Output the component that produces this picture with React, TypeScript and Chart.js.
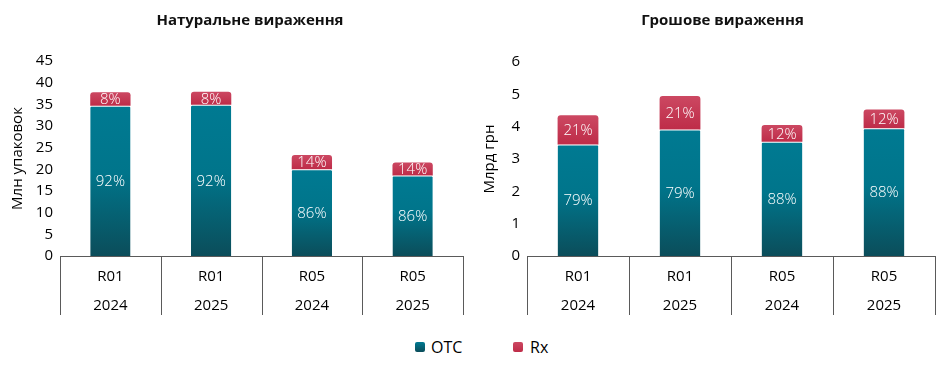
import React, { useEffect, useRef } from "react";
import { Chart, registerables } from "chart.js";

Chart.register(...registerables);

// ---------- data ----------
const categories = [
  ["R01", "2024"],
  ["R01", "2025"],
  ["R05", "2024"],
  ["R05", "2025"],
];
const seriesNames = ["OTC", "Rx"];

const volumeTitle = "Натуральне вираження";
const volumeAxisTitle = "Млн упаковок";
const volumeOTC = [34.7, 34.9, 20.0, 18.6];
const volumeRx = [3.1, 3.0, 3.3, 3.0];
const volumeOTCShare = ["92%", "92%", "86%", "86%"];
const volumeRxShare = ["8%", "8%", "14%", "14%"];
const volumeMax = 45;
const volumeStep = 5;

const valueTitle = "Грошове вираження";
const valueAxisTitle = "Млрд грн";
const valueOTC = [3.45, 3.91, 3.53, 3.95];
const valueRx = [0.9, 1.04, 0.52, 0.58];
const valueOTCShare = ["79%", "79%", "88%", "88%"];
const valueRxShare = ["21%", "21%", "12%", "12%"];
const valueMax = 6;
const valueStep = 1;

// ---------- styles ----------
const FONT = "'Open Sans', 'Noto Sans', 'DejaVu Sans', sans-serif";
const OTC_TOP = "#007A92";
const OTC_MID = "#00758B";
const OTC_BOTTOM = "#0B4D5A";
const RX_TOP = "#CC4862";
const RX_BOTTOM = "#BE2C48";
const LINE = "#5a5a5a";

function barGradient(ctx: any, stackIndex: number, top: string, mid: string | null, bottom: string) {
  const chart = ctx.chart;
  const area = chart.chartArea;
  if (!area || ctx.type !== "data") return top;
  const y = chart.scales.y;
  const datasets = chart.data.datasets;
  let base = 0;
  for (let k = 0; k < stackIndex; k++) base += datasets[k].data[ctx.dataIndex] as number;
  const v = base + (datasets[stackIndex].data[ctx.dataIndex] as number);
  const yTop = y.getPixelForValue(v);
  const yBot = y.getPixelForValue(base);
  if (!isFinite(yTop) || !isFinite(yBot) || yTop === yBot) return top;
  const g = chart.ctx.createLinearGradient(0, yTop, 0, yBot);
  g.addColorStop(0, top);
  if (mid) g.addColorStop(0.45, mid);
  g.addColorStop(1, bottom);
  return g;
}

const barLabelPlugin = {
  id: "barLabels",
  afterDatasetsDraw(chart: any) {
    const c = chart.ctx;
    c.save();
    c.font = `300 15px ${FONT}`;
    c.fillStyle = "#ffffff";
    c.textAlign = "center";
    c.textBaseline = "middle";
    chart.data.datasets.forEach((ds: any, i: number) => {
      const meta = chart.getDatasetMeta(i);
      meta.data.forEach((bar: any, j: number) => {
        const { x, y, base } = bar.getProps(["x", "y", "base"], true);
        c.fillText(ds.shares[j], x, (y + base) / 2 + 1);
      });
    });
    c.restore();
  },
};

const categoryGridPlugin = {
  id: "categoryGrid",
  afterDraw(chart: any) {
    const x = chart.scales.x;
    const bottom = chart.chartArea.bottom;
    const c = chart.ctx;
    c.save();
    c.strokeStyle = LINE;
    c.lineWidth = 1;
    const n = chart.data.labels.length;
    for (let i = 0; i <= n; i++) {
      const px = Math.round(x.getPixelForValue(i - 0.5)) + 0.5;
      c.beginPath();
      c.moveTo(px, bottom);
      c.lineTo(px, bottom + 59);
      c.stroke();
    }
    c.restore();
  },
};

const chartTitlePlugin = {
  id: "chartTitle",
  afterDraw(chart: any, _args: any, opts: any) {
    const c = chart.ctx;
    c.save();
    c.font = `bold 15px ${FONT}`;
    c.fillStyle = "#111";
    c.textAlign = "center";
    c.textBaseline = "middle";
    c.fillText(opts.text, chart.width / 2 + 15, 21);
    c.restore();
  },
};

function makeConfig(
  title: string,
  axisTitle: string,
  otc: number[],
  rx: number[],
  otcShare: string[],
  rxShare: string[],
  max: number,
  step: number,
  yWidth: number,
  titlePad: number,
  padRight: number,
  padTop: number
): any {
  return {
    type: "bar",
    data: {
      labels: categories,
      datasets: [
        {
          label: seriesNames[0],
          data: otc,
          shares: otcShare,
          backgroundColor: (ctx: any) => barGradient(ctx, 0, OTC_TOP, OTC_MID, OTC_BOTTOM),
          borderColor: "rgba(255,255,255,0.55)",
          borderWidth: { top: 1, left: 0, right: 0, bottom: 0 },
          borderSkipped: false,
          borderRadius: { topLeft: 2, topRight: 2, bottomLeft: 0, bottomRight: 0 },
          barPercentage: 0.4,
          categoryPercentage: 1,
        },
        {
          label: seriesNames[1],
          data: rx,
          shares: rxShare,
          backgroundColor: (ctx: any) => barGradient(ctx, 1, RX_TOP, null, RX_BOTTOM),
          borderWidth: 0,
          borderSkipped: false,
          borderRadius: { topLeft: 3, topRight: 3, bottomLeft: 0, bottomRight: 0 },
          barPercentage: 0.4,
          categoryPercentage: 1,
        },
      ],
    },
    options: {
      responsive: false,
      animation: false,
      devicePixelRatio: 1,
      layout: { padding: { left: 0, right: padRight, top: padTop, bottom: 0 } },
      plugins: {
        legend: { display: false },
        tooltip: { enabled: false },
        title: { display: false },
        chartTitle: { text: title },
      },
      scales: {
        x: {
          stacked: true,
          offset: true,
          grid: { display: false, drawTicks: false },
          border: { display: true, color: LINE, width: 1 },
          ticks: {
            color: "#000",
            padding: 6,
            maxRotation: 0,
            autoSkip: false,
            font: { family: FONT, size: 15, lineHeight: "29px" },
          },
          afterFit: (s: any) => {
            s.height = 74;
          },
        },
        y: {
          stacked: true,
          min: 0,
          max: max,
          grid: { display: false, drawTicks: false },
          border: { display: false },
          ticks: {
            stepSize: step,
            color: "#000",
            padding: 7,
            font: { family: FONT, size: 15 },
          },
          title: {
            display: true,
            text: axisTitle,
            color: "#000",
            font: { family: FONT, size: 15 },
            padding: { top: titlePad, bottom: 0 },
          },
          afterFit: (s: any) => {
            s.width = yWidth;
          },
        },
      },
    },
    plugins: [barLabelPlugin, categoryGridPlugin, chartTitlePlugin],
  };
}

export default function App() {
  const leftRef = useRef<HTMLCanvasElement>(null);
  const rightRef = useRef<HTMLCanvasElement>(null);

  useEffect(() => {
    const left = new Chart(
      leftRef.current as HTMLCanvasElement,
      makeConfig(volumeTitle, volumeAxisTitle, volumeOTC, volumeRx, volumeOTCShare, volumeRxShare, volumeMax, volumeStep, 60, 9, 7, 61)
    );
    const right = new Chart(
      rightRef.current as HTMLCanvasElement,
      makeConfig(valueTitle, valueAxisTitle, valueOTC, valueRx, valueOTCShare, valueRxShare, valueMax, valueStep, 57, 11, 10, 62)
    );
    return () => {
      left.destroy();
      right.destroy();
    };
  }, []);

  const legendText: React.CSSProperties = {
    position: "absolute",
    top: 337,
    height: 20,
    lineHeight: "20px",
    fontFamily: FONT,
    fontSize: 16,
    color: "#000",
  };
  const swatch: React.CSSProperties = {
    position: "absolute",
    top: 342,
    width: 10,
    height: 10,
    borderRadius: 2,
  };

  return (
    <div style={{ position: "absolute", left: 0, top: 0, width: 945, height: 366, background: "#fff", overflow: "hidden" }}>
      <canvas ref={leftRef} width={470} height={330} style={{ position: "absolute", left: 0, top: 0, width: 470, height: 330 }} />
      <canvas ref={rightRef} width={475} height={330} style={{ position: "absolute", left: 470, top: 0, width: 475, height: 330 }} />
      <div style={{ ...swatch, left: 415, background: `linear-gradient(${OTC_TOP}, ${OTC_BOTTOM})` }} />
      <div style={{ ...legendText, left: 431 }}>{seriesNames[0]}</div>
      <div style={{ ...swatch, left: 513, background: `linear-gradient(${RX_TOP}, ${RX_BOTTOM})` }} />
      <div style={{ ...legendText, left: 530 }}>{seriesNames[1]}</div>
    </div>
  );
}
